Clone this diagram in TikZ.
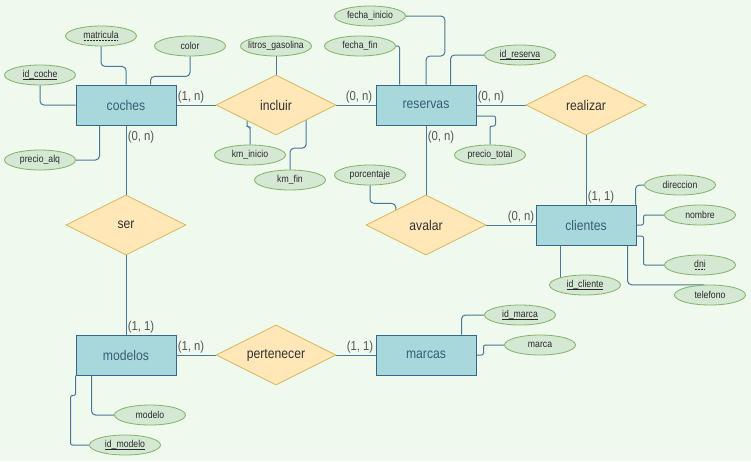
\documentclass[tikz,border=0pt]{standalone}
\usepackage{fontspec}
\setmainfont[FakeStretch=0.87]{Liberation Sans}
\usetikzlibrary{shapes.geometric,calc}
\pgfdeclarelayer{canvas}
\pgfdeclarelayer{background}
\pgfsetlayers{canvas,background,main}

\definecolor{bg}{HTML}{EFF9EE}
\definecolor{entfill}{HTML}{A8D7DC}
\definecolor{entborder}{HTML}{36688A}
\definecolor{enttext}{HTML}{3A5D74}
\definecolor{relfill}{HTML}{FFE7B8}
\definecolor{relborder}{HTML}{D6B656}
\definecolor{reltext}{HTML}{333333}
\definecolor{attrfill}{HTML}{D5E8D4}
\definecolor{attrborder}{HTML}{82B366}
\definecolor{attrtext}{HTML}{2A2A2A}
\definecolor{cardtext}{HTML}{555555}
\definecolor{linecol}{HTML}{4A7896}

% attribute text is kept out of the ellipse size computation
\newcommand\attxt[1]{\makebox[0pt][c]{#1}}
% solid and dotted underlines for key attributes
\newcommand\keyul[1]{\setbox0\hbox{#1}\leavevmode
  \rlap{\raisebox{-2pt}{\rule{\wd0}{0.7pt}}}\box0}
\newcommand\dotul[1]{\setbox0\hbox{#1}\leavevmode
  \rlap{\raisebox{-2pt}{\hbox to \wd0{\leaders\hbox to 1.5pt{\hss\rule{0.75pt}{0.7pt}\hss}\hfill}}}\box0}

\begin{document}
\begin{tikzpicture}[x=1pt,y=-1pt,
  entity/.style={draw=entborder, fill=entfill, line width=1pt,
    minimum width=100pt, minimum height=40pt, inner sep=0pt,
    font=\fontsize{14}{16}\selectfont, text=enttext},
  rel/.style={diamond, aspect=2, draw=relborder, fill=relfill, line width=0.8pt,
    minimum width=120pt, minimum height=60pt, inner sep=0pt,
    font=\fontsize{14}{16}\selectfont, text=reltext},
  attr/.style={ellipse, draw=attrborder, fill=attrfill, line width=0.8pt,
    minimum width=71pt, minimum height=20pt, inner sep=0pt,
    font=\fontsize{10}{12}\selectfont, text=attrtext},
  card/.style={font=\fontsize{13}{15}\selectfont, text=cardtext, inner sep=0pt},
  conn/.style={draw=linecol, line width=1pt, rounded corners=4pt},
  tight/.style={rounded corners=2pt}]

\begin{pgfonlayer}{canvas}
  \fill[bg] (0,0) rectangle (751,461);
\end{pgfonlayer}
\useasboundingbox (0,0) rectangle (751,461);

% entities
\node[entity] (coches)   at (126,105) {coches};
\node[entity] (reservas) at (426,105) {reservas};
\node[entity] (clientes) at (586,225) {clientes};
\node[entity] (modelos)  at (126,355) {modelos};
\node[entity] (marcas)   at (426,355) {marcas};

% relationships
\node[rel] (incluir)    at (276,105) {incluir};
\node[rel] (realizar)   at (586,105) {realizar};
\node[rel] (ser)        at (126,225) {ser};
\node[rel] (avalar)     at (426,225) {avalar};
\node[rel] (pertenecer) at (276,355) {pertenecer};

% attributes
\node[attr] (matricula)    at (101,36)  {\attxt{\dotul{matricula}}};
\node[attr] (color)        at (190,46)  {\attxt{color}};
\node[attr] (idcoche)      at (40,75)   {\attxt{\keyul{id\_coche}}};
\node[attr] (precioalq)    at (40,160)  {\attxt{precio\_alq}};
\node[attr] (litros)       at (276,46)  {\attxt{litros\_gasolina}};
\node[attr] (kminicio)     at (250,155) {\attxt{km\_inicio}};
\node[attr] (kmfin)        at (290,180) {\attxt{km\_fin}};
\node[attr] (fechainicio)  at (370,16)  {\attxt{fecha\_inicio}};
\node[attr] (fechafin)     at (360,46)  {\attxt{fecha\_fin}};
\node[attr] (idreserva)    at (520,55)  {\attxt{\keyul{id\_reserva}}};
\node[attr] (preciototal)  at (490,155) {\attxt{precio\_total}};
\node[attr] (porcentaje)   at (370,175) {\attxt{porcentaje}};
\node[attr] (direccion)    at (680,185) {\attxt{direccion}};
\node[attr] (nombre)       at (700,215) {\attxt{nombre}};
\node[attr] (dni)          at (700,265) {\attxt{\dotul{dni}}};
\node[attr] (telefono)     at (710,295) {\attxt{telefono}};
\node[attr] (idcliente)    at (585,285) {\attxt{\keyul{id\_cliente}}};
\node[attr] (idmarca)      at (520,315) {\attxt{\keyul{id\_marca}}};
\node[attr] (marca)        at (540,345) {\attxt{marca}};
\node[attr] (modelo)       at (150,415) {\attxt{modelo}};
\node[attr] (idmodelo)     at (125,445) {\attxt{\keyul{id\_modelo}}};

% cardinalities
\node[card] (c1)  at (191,97)  {(1, n)};
\node[card] (c2)  at (141,137) {(0, n)};
\node[card] (c3)  at (359,97)  {(0, n)};
\node[card] (c4)  at (491,97)  {(0, n)};
\node[card] (c5)  at (441,137) {(0, n)};
\node[card] (c6)  at (601,197) {(1, 1)};
\node[card] (c7)  at (521,217) {(0, n)};
\node[card] (c8)  at (141,327) {(1, 1)};
\node[card] (c9)  at (191,347) {(1, n)};
\node[card] (c10) at (360,347) {(1, 1)};

% attachment points
\coordinate (kmi)  at ($(incluir.west)!0.52!(incluir.south)$);
\coordinate (kmf)  at ($(incluir.south)!0.5!(incluir.east)$);
\coordinate (porc) at ($(avalar.west)!0.5!(avalar.north)$);
\coordinate (idcl) at ($(clientes.south west)+(25,0)$);

\begin{pgfonlayer}{background}
  % relationship links
  \draw[conn] (coches.east) -- (incluir.west);
  \draw[conn] (incluir.east) -- (reservas.west);
  \draw[conn] (reservas.east) -- (realizar.west);
  \draw[conn] (realizar.south) -- (clientes.north);
  \draw[conn] (reservas.south) -- (avalar.north);
  \draw[conn] (avalar.east) -- (clientes.west);
  \draw[conn] (coches.south) -- (ser.north);
  \draw[conn] (ser.south) -- (modelos.north);
  \draw[conn] (modelos.east) -- (pertenecer.west);
  \draw[conn] (pertenecer.east) -- (marcas.west);

  % coches attributes
  \draw[conn] (matricula.south) -- ++(0,20) -| (coches.north);
  \draw[conn] (color.south) -- ++(0,20) -| ($(coches.north east)+(-26,0)$);
  \draw[conn] (idcoche.south) |- (coches.west);
  \draw[conn] (precioalq.east) -| ($(coches.south west)+(24,0)$);

  % incluir attributes
  \draw[conn] (litros.south) -- (incluir.north);
  \draw[conn,tight] (kmi) -- ++(0,6) -| (kminicio.north);
  \draw[conn] (kmf) -- ++(0,28) -| (kmfin.north);

  % reservas attributes
  \draw[conn] (fechainicio.east) -| ++(39,40) -| (reservas.north);
  \draw[conn,tight] (fechafin.east) -| ($(reservas.north west)+(24,0)$);
  \draw[conn] (idreserva.west) -| ($(reservas.north east)+(-26,0)$);
  \draw[conn,tight] ($(reservas.east)+(0,11)$) -- ++(19,0) -- ++(0,10) -| (preciototal.north);

  % avalar attribute
  \draw[conn] (porcentaje.south) -- ++(0,18) -| (porc);

  % clientes attributes
  \draw[conn] ($(clientes.north east)+(-1,0)$) |- (direccion.west);
  \draw[conn,tight] (clientes.east) -- ++(7,0) |- (nombre.west);
  \draw[conn,tight] ($(clientes.east)+(0,11)$) -- ++(7,0) |- (dni.west);
  \draw[conn] ($(clientes.south east)+(-9,0)$) |- (telefono.120);
  \draw[conn] (idcl) -- (idcl |- idcliente.center);

  % marcas attributes
  \draw[conn] ($(marcas.north east)+(-15,0)$) |- (idmarca.west);
  \draw[conn,tight] (marcas.east) -- ++(7,0) |- (marca.west);

  % modelos attributes
  \draw[conn] ($(modelos.south west)+(16,0)$) |- (modelo.west);
  \draw[conn,tight] (modelos.south west) -- ++(0,20) -| ++(-5,10) |- (idmodelo.west);
\end{pgfonlayer}
\end{tikzpicture}
\end{document}
